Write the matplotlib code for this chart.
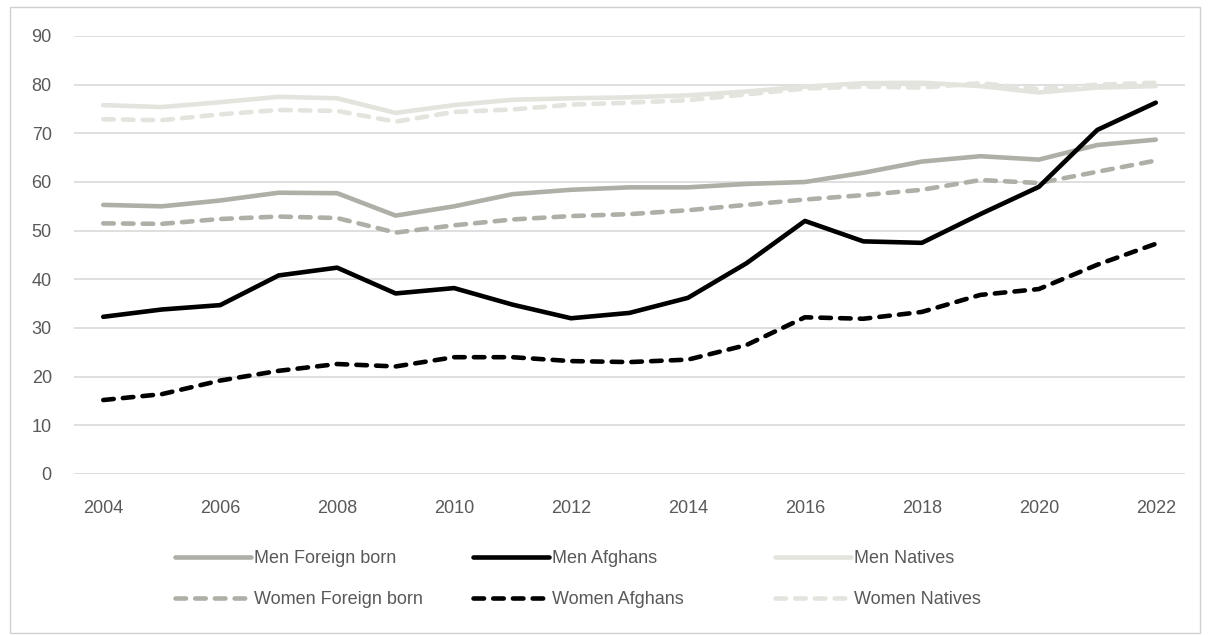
import numpy as np
import matplotlib.pyplot as plt
import matplotlib as mpl
from matplotlib.patches import Rectangle

mpl.rcParams['font.family'] = ['Liberation Sans', 'DejaVu Sans']
mpl.rcParams['font.size'] = 13

# data
years = list(range(2004, 2023))
men_foreign = [55.3, 55.0, 56.2, 57.8, 57.7, 53.1, 55.0, 57.5, 58.4, 58.9,
               58.9, 59.6, 60.0, 61.9, 64.2, 65.3, 64.6, 67.6, 68.7]
women_foreign = [51.5, 51.4, 52.4, 52.9, 52.6, 49.6, 51.1, 52.3, 53.0, 53.4,
                 54.2, 55.3, 56.4, 57.3, 58.4, 60.4, 59.8, 62.1, 64.4]
men_afghans = [32.3, 33.8, 34.7, 40.8, 42.4, 37.1, 38.2, 34.8, 32.0, 33.1,
               36.2, 43.3, 52.0, 47.8, 47.5, 53.4, 59.0, 70.7, 76.3]
women_afghans = [15.2, 16.4, 19.2, 21.2, 22.6, 22.1, 24.0, 24.0, 23.2, 23.0,
                 23.5, 26.5, 32.2, 31.9, 33.3, 36.8, 38.0, 43.0, 47.3]
men_natives = [75.8, 75.4, 76.4, 77.5, 77.2, 74.2, 75.8, 76.9, 77.2, 77.4,
               77.8, 78.6, 79.6, 80.3, 80.4, 79.7, 78.4, 79.4, 79.7]
women_natives = [72.9, 72.7, 73.9, 74.8, 74.6, 72.4, 74.4, 74.9, 75.9, 76.3,
                 76.8, 78.0, 79.2, 79.6, 79.4, 80.3, 79.1, 80.0, 80.4]

c_foreign = '#AFAFA8'
c_afghan = '#000000'
c_native = '#E4E4DE'
lw = 3.3
dash = (2.3, 2.0)

fig = plt.figure(figsize=(12.08, 6.35), dpi=100)
# outer frame
fig.patches.append(Rectangle((10 / 1208, 0.003), 1190 / 1208, 1 - 7 / 635 - 0.003,
                             transform=fig.transFigure, fill=False,
                             edgecolor='#D0D0D0', lw=1))

ax = fig.add_axes([74 / 1208, 1 - 474 / 635, (1185 - 74) / 1208, (474 - 36) / 635])

# lighter series first so Afghans sit on top
l_mn, = ax.plot(years, men_natives, color=c_native, lw=lw, solid_capstyle='round', label='Men Natives')
l_wn, = ax.plot(years, women_natives, color=c_native, lw=lw, ls=(0, dash), dash_capstyle='round', label='Women Natives')
l_mf, = ax.plot(years, men_foreign, color=c_foreign, lw=lw, solid_capstyle='round', label='Men Foreign born')
l_wf, = ax.plot(years, women_foreign, color=c_foreign, lw=lw, ls=(0, dash), dash_capstyle='round', label='Women Foreign born')
l_wa, = ax.plot(years, women_afghans, color=c_afghan, lw=lw, ls=(0, dash), dash_capstyle='round', label='Women Afghans')
l_ma, = ax.plot(years, men_afghans, color=c_afghan, lw=lw, solid_capstyle='round', label='Men Afghans')

ax.set_xlim(2003.5, 2022.5)
ax.set_ylim(0, 90)
ax.set_yticks(np.arange(0, 91, 10))
ax.set_xticks(years[::2])
ax.yaxis.grid(True, color='#D9D9D9', lw=1.2)
ax.set_axisbelow(True)
for s in ax.spines.values():
    s.set_visible(False)
ax.tick_params(axis='both', length=0, colors='#595959', labelsize=13)
ax.tick_params(axis='x', pad=19)
ax.tick_params(axis='y', pad=16)

# legend: three columns placed by hand
cols = [([l_mf, l_wf], 175), ([l_ma, l_wa], 473), ([l_mn, l_wn], 775)]
for handles, x0 in cols:
    leg = fig.legend(handles, [h.get_label() for h in handles], loc='upper left',
                     bbox_to_anchor=(x0 / 1208, 1 - 550 / 635), frameon=False,
                     handlelength=4.2, handletextpad=0.15, labelspacing=1.35,
                     borderaxespad=0, borderpad=0, fontsize=13)
    for t in leg.get_texts():
        t.set_color('#595959')

plt.savefig('out.png', dpi=100)
